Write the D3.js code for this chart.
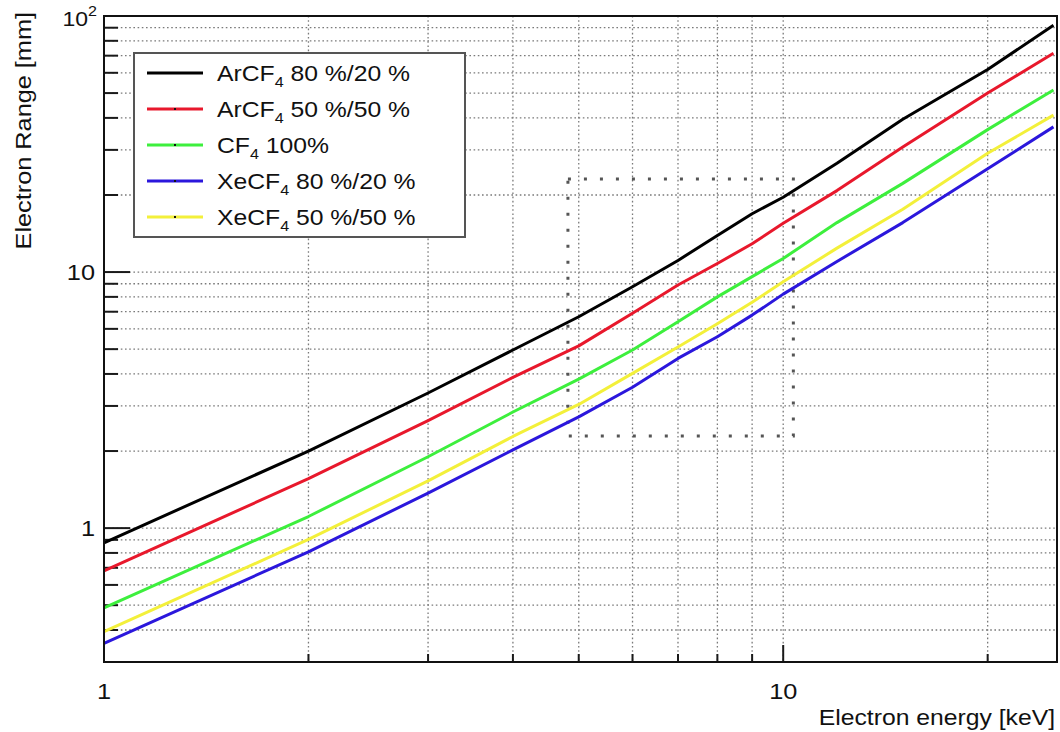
<!DOCTYPE html>
<html>
<head>
<meta charset="utf-8">
<script src="https://cdn.jsdelivr.net/npm/d3@7"></script>
<style>
  html, body { margin: 0; padding: 0; background: #fff; }
  svg { display: block; font-family: "Liberation Sans", Arial, Helvetica, sans-serif; }
</style>
</head>
<body>
<svg id="chart" width="1060" height="732"></svg>
<script>
// Electron energy [keV]
const energies = [1, 2, 3, 4, 5, 6, 7, 8, 9, 10, 12, 15, 20, 25];

// Electron range [mm] for each gas mixture
const rangeArCF4_80_20 = [0.876, 2.00, 3.37, 4.96, 6.69, 8.76, 11.1, 13.9, 16.9, 19.6, 26.6, 39.5, 61.8, 92.0];
const rangeArCF4_50_50 = [0.681, 1.56, 2.63, 3.88, 5.15, 6.90, 8.90, 10.8, 12.9, 15.5, 20.8, 30.8, 50.0, 71.5];
const rangeCF4_100     = [0.488, 1.11, 1.90, 2.84, 3.82, 4.96, 6.40, 8.00, 9.60, 11.3, 15.6, 22.2, 36.0, 51.4];
const rangeXeCF4_80_20 = [0.355, 0.808, 1.37, 2.02, 2.72, 3.55, 4.60, 5.59, 6.79, 8.20, 11.0, 15.6, 25.3, 36.9];
const rangeXeCF4_50_50 = [0.394, 0.903, 1.53, 2.28, 3.04, 4.02, 5.10, 6.28, 7.62, 9.16, 12.4, 17.6, 29.1, 41.0];

// Legend labels: [gas, subscript, mixture]
const legendLabels = [
  ["ArCF", "4", " 80 %/20 %"],
  ["ArCF", "4", " 50 %/50 %"],
  ["CF", "4", " 100%"],
  ["XeCF", "4", " 80 %/20 %"],
  ["XeCF", "4", " 50 %/50 %"]
];
const seriesValues = [rangeArCF4_80_20, rangeArCF4_50_50, rangeCF4_100, rangeXeCF4_80_20, rangeXeCF4_50_50];

// Axis extents and labelled ticks
const xDomain = [1, 25.3];
const yDomain = [0.3, 100];
const xTickLabels = [1, 10];
const yTickLabels = [1, 10];

// Highlighted region (energy range × range range)
const regionEnergy = [4.82, 10.35];
const regionRange = [2.29, 23.1];

// ---- styling ----
const lineColors = ["#000000", "#e8182c", "#3def3d", "#2b17dc", "#f3f03a"];
const SX = 1.15; // horizontal glyph stretch for all text

const svg = d3.select("#chart");
const plotLeft = 104, plotRight = 1057, plotTop = 16, plotBottom = 662;

const x = d3.scaleLog().domain(xDomain).range([plotLeft, plotRight]);
const y = d3.scaleLog().domain(yDomain).range([plotBottom, plotTop]);

// minor tick values on a log axis between domain bounds
function logTicks(domain) {
  const out = [];
  const lo = Math.floor(Math.log10(domain[0]));
  const hi = Math.ceil(Math.log10(domain[1]));
  for (let p = lo; p <= hi; p++) {
    for (let m = 1; m <= 9; m++) {
      const v = m * Math.pow(10, p);
      if (v >= domain[0] * 0.9999 && v <= domain[1] * 1.0001) out.push({ v, major: m === 1 });
    }
  }
  return out;
}
const xTicks = logTicks(xDomain).filter(d => d.v > xDomain[0]);
const yTicks = logTicks(yDomain).filter(d => d.v > yDomain[0] && d.v < yDomain[1]);

// ---- grid ----
const grid = svg.append("g")
  .attr("stroke", "#7a7a7a")
  .attr("stroke-width", 1.3)
  .attr("stroke-dasharray", "1.6,2.6");
grid.selectAll("line.gx").data(xTicks).join("line")
  .attr("class", "gx")
  .attr("x1", d => x(d.v)).attr("x2", d => x(d.v))
  .attr("y1", plotTop).attr("y2", plotBottom);
grid.selectAll("line.gy").data(yTicks).join("line")
  .attr("class", "gy")
  .attr("x1", plotLeft).attr("x2", plotRight)
  .attr("y1", d => y(d.v)).attr("y2", d => y(d.v));

// ---- axis ticks (drawn inward) ----
const ticks = svg.append("g").attr("stroke", "#1a1a1a").attr("stroke-width", 2);
ticks.selectAll("line.ty").data(yTicks).join("line")
  .attr("class", "ty")
  .attr("x1", plotLeft).attr("x2", d => plotLeft + (d.major ? 26 : 14))
  .attr("y1", d => y(d.v)).attr("y2", d => y(d.v));
ticks.selectAll("line.tx").data(xTicks).join("line")
  .attr("class", "tx")
  .attr("x1", d => x(d.v)).attr("x2", d => x(d.v))
  .attr("y1", plotBottom).attr("y2", d => plotBottom - (d.major ? 17 : 8));

// ---- highlighted region ----
svg.append("rect")
  .attr("x", x(regionEnergy[0]))
  .attr("y", y(regionRange[1]))
  .attr("width", x(regionEnergy[1]) - x(regionEnergy[0]))
  .attr("height", y(regionRange[0]) - y(regionRange[1]))
  .attr("fill", "none")
  .attr("stroke", "#555")
  .attr("stroke-width", 3)
  .attr("stroke-dasharray", "3,13");

// ---- curves ----
const line = d3.line().x(d => x(d[0])).y(d => y(d[1]));
svg.append("g").selectAll("path").data(seriesValues).join("path")
  .attr("d", vals => line(energies.map((e, i) => [e, vals[i]])))
  .attr("fill", "none")
  .attr("stroke", (d, i) => lineColors[i])
  .attr("stroke-width", 3)
  .attr("stroke-linejoin", "round");

// ---- frame ----
svg.append("rect")
  .attr("x", plotLeft).attr("y", plotTop)
  .attr("width", plotRight - plotLeft).attr("height", plotBottom - plotTop)
  .attr("fill", "none").attr("stroke", "#111").attr("stroke-width", 2);

// ---- text helper ----
function addText(px, py, str, size, anchor, rot) {
  return svg.append("text")
    .attr("transform", `translate(${px},${py}) rotate(${rot || 0}) scale(${SX},1)`)
    .attr("font-size", size)
    .attr("text-anchor", anchor || "start")
    .attr("fill", "#111")
    .text(str);
}

// tick labels
xTickLabels.forEach(v => addText(x(v), 699, String(v), 22, "middle"));
yTickLabels.forEach(v => addText(95, y(v) + 8, String(v), 22, "end"));
// top label 10^2
const top10 = addText(97, 26, "", 20, "end");
top10.append("tspan").text("10");
top10.append("tspan").attr("font-size", 14).attr("dy", -10).text(String(Math.log10(yDomain[1])));

// axis titles
addText(1055, 725, "Electron energy [keV]", 21.5, "end");
addText(31, 12, "Electron Range [mm]", 22, "end", -90);

// ---- legend ----
const lg = svg.append("g");
lg.append("rect")
  .attr("x", 134).attr("y", 53).attr("width", 331).attr("height", 184)
  .attr("fill", "#fff").attr("stroke", "#555").attr("stroke-width", 2);
const rowY = d3.scalePoint().domain(d3.range(legendLabels.length)).range([73, 217]);
legendLabels.forEach((lab, i) => {
  const cy = rowY(i);
  lg.append("line")
    .attr("x1", 147).attr("x2", 203).attr("y1", cy).attr("y2", cy)
    .attr("stroke", lineColors[i]).attr("stroke-width", 3);
  if (i > 0) {
    lg.append("rect").attr("x", 174).attr("y", cy - 1).attr("width", 2).attr("height", 2).attr("fill", "#111");
  }
  const t = lg.append("text")
    .attr("transform", `translate(217,${cy + 8}) scale(${SX},1)`)
    .attr("font-size", 21.5).attr("fill", "#111");
  t.append("tspan").text(lab[0]);
  t.append("tspan").attr("font-size", 14).attr("dy", 6).text(lab[1]);
  t.append("tspan").attr("dy", -6).text(lab[2]);
});
</script>
</body>
</html>
